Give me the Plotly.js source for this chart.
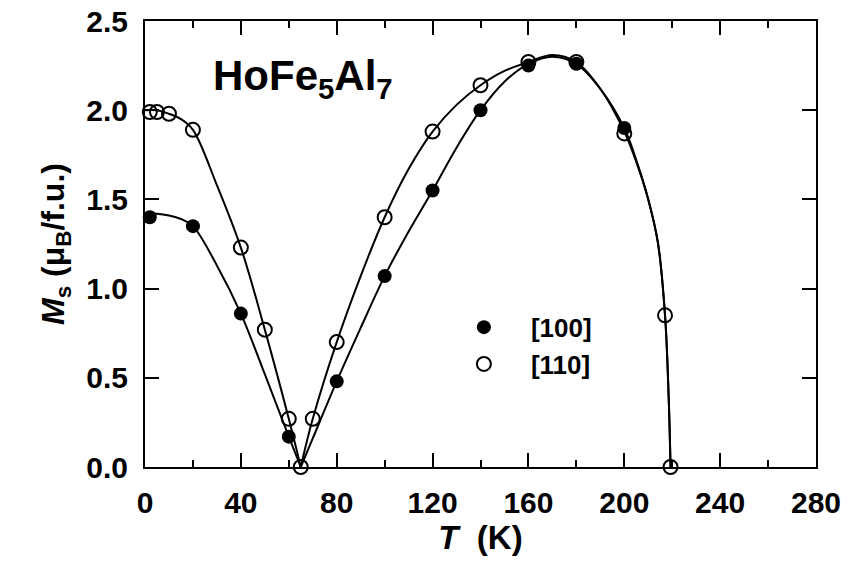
<!DOCTYPE html>
<html>
<head>
<meta charset="utf-8">
<script src="https://cdn.plot.ly/plotly-3.0.1.min.js"></script>
<style>
  html, body { margin: 0; padding: 0; background: #fff; }
  #chart { width: 861px; height: 565px; }
</style>
</head>
<body>
<div id="chart"></div>
<script>
// Measured saturation moment of HoFe5Al7 along two crystal directions
const tempA = [2, 20, 40, 60, 80, 100, 120, 140, 160, 180, 200];
const msA   = [1.40, 1.35, 0.86, 0.17, 0.48, 1.07, 1.55, 2.00, 2.25, 2.26, 1.90];

const tempB = [2, 5, 10, 20, 40, 50, 60, 65, 70, 80, 100, 120, 140, 160, 180, 200, 217, 219.3];
const msB   = [1.99, 1.99, 1.98, 1.89, 1.23, 0.77, 0.27, 0.00, 0.27, 0.70, 1.40, 1.88, 2.14, 2.27, 2.27, 1.87, 0.85, 0.00];

// Guide-to-the-eye curves, split at the compensation point (~65 K)
const fitA_lowT  = [0, 5, 10, 15, 20, 30, 40, 50, 60, 65];
const fitA_lowM  = [1.42, 1.42, 1.41, 1.39, 1.35, 1.13, 0.86, 0.52, 0.17, 0.00];
const fitA_highT = [65, 70, 80, 90, 100, 110, 120, 130, 140, 150, 160, 170, 180, 190, 200, 205, 210, 214, 217, 218.5, 219.3];
const fitA_highM = [0.00, 0.16, 0.48, 0.78, 1.07, 1.32, 1.55, 1.79, 2.00, 2.16, 2.26, 2.30, 2.26, 2.12, 1.90, 1.72, 1.50, 1.26, 0.85, 0.40, 0.00];

const fitB_lowT  = [0, 5, 10, 15, 20, 30, 40, 50, 60, 65];
const fitB_lowM  = [2.00, 2.00, 1.98, 1.95, 1.89, 1.58, 1.23, 0.77, 0.27, 0.00];
const fitB_highT = [65, 70, 80, 90, 100, 110, 120, 130, 140, 150, 160, 170, 180, 190, 200, 205, 210, 214, 217, 218.5, 219.3];
const fitB_highM = [0.00, 0.27, 0.70, 1.07, 1.40, 1.67, 1.88, 2.03, 2.14, 2.22, 2.27, 2.31, 2.27, 2.12, 1.88, 1.71, 1.50, 1.26, 0.85, 0.40, 0.00];

const seriesNames = ['[100]', '[110]'];
const xTicks = [0, 40, 80, 120, 160, 200, 240, 280];
const yTicks = [0, 0.5, 1.0, 1.5, 2.0, 2.5];

const FONT = 'Liberation Sans, Arial, Helvetica, sans-serif';

function fitLine(x, y) {
  return {
    x: x, y: y, mode: 'lines', showlegend: false, hoverinfo: 'skip',
    line: { color: '#000', width: 2, shape: 'spline', smoothing: 1 }
  };
}

const traces = [
  fitLine(fitA_lowT, fitA_lowM),
  fitLine(fitA_highT, fitA_highM),
  fitLine(fitB_lowT, fitB_lowM),
  fitLine(fitB_highT, fitB_highM),
  {
    x: tempA, y: msA, name: seriesNames[0], mode: 'markers', cliponaxis: false,
    marker: { symbol: 'circle', size: 14, color: '#000' }
  },
  {
    x: tempB, y: msB, name: seriesNames[1], mode: 'markers', cliponaxis: false,
    marker: { symbol: 'circle-open', size: 14, color: '#000', line: { width: 2, color: '#000' } }
  }
];

const axisCommon = {
  showline: true, linewidth: 2, linecolor: '#000', mirror: 'ticks',
  ticks: 'inside', ticklen: 14, tickwidth: 2, tickcolor: '#000',
  showgrid: false, zeroline: false,
  tickfont: { family: FONT, size: 30, color: '#000', weight: 'bold' }
};

const layout = {
  width: 861, height: 565,
  margin: { l: 145, r: 45, t: 21, b: 98 },
  paper_bgcolor: '#fff', plot_bgcolor: '#fff',
  font: { family: FONT, color: '#000' },
  xaxis: Object.assign({}, axisCommon, {
    range: [0, 280], tickmode: 'array', tickvals: xTicks,
    ticktext: xTicks.map(String),
    ticklabelstandoff: 8,
    minor: { dtick: 20, tick0: 0, ticks: 'inside', ticklen: 7, tickwidth: 2, tickcolor: '#000' },
    title: { text: '<i>T</i>\u00A0\u00A0(K)', standoff: 4,
             font: { family: FONT, size: 33, color: '#000', weight: 'bold' } }
  }),
  yaxis: Object.assign({}, axisCommon, {
    range: [0, 2.5], tickmode: 'array', tickvals: yTicks,
    ticktext: yTicks.map(v => v.toFixed(1)),
    ticklabelstandoff: 9,
    title: { text: '<i>M</i><sub>s</sub> (\u03BC<sub>B</sub>/f.u.)', standoff: 12,
             font: { family: FONT, size: 32, color: '#000', weight: 'bold' } }
  }),
  legend: {
    x: 0.435, y: 0.366, xanchor: 'left', yanchor: 'top',
    bgcolor: 'rgba(0,0,0,0)', borderwidth: 0,
    itemwidth: 84, tracegroupgap: 0,
    font: { family: FONT, size: 26, color: '#000', weight: 'bold' }
  },
  annotations: [{
    xref: 'x', yref: 'y', x: 27.5, y: 2.18, xanchor: 'left', yanchor: 'middle',
    text: 'HoFe<sub>5</sub>Al<sub>7</sub>', showarrow: false,
    font: { family: FONT, size: 42, color: '#000', weight: 'bold' }
  }]
};

Plotly.newPlot('chart', traces, layout, { staticPlot: true, displayModeBar: false });
</script>
</body>
</html>
